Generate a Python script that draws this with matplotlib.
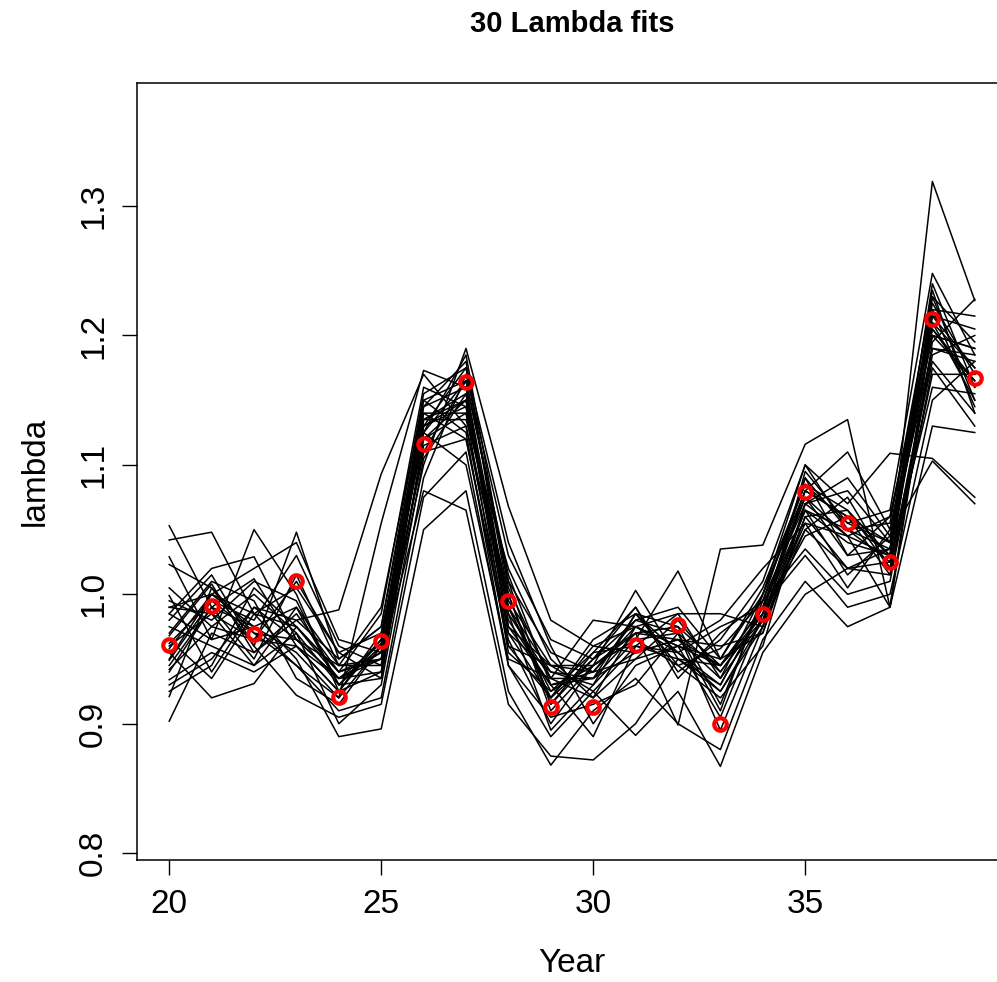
import numpy as np
import matplotlib
matplotlib.use("Agg")
import matplotlib.pyplot as plt

plt.rcParams["font.family"] = ["Liberation Sans", "DejaVu Sans"]

years = list(range(20, 40))

# "true" lambda values (red circles)
lambda_true = [0.961, 0.991, 0.969, 1.010, 0.921, 0.964, 1.116, 1.164, 0.995, 0.913,
               0.913, 0.961, 0.976, 0.900, 0.985, 1.079, 1.055, 1.025, 1.213, 1.167]

# 30 fitted lambda series (approximate)
fits = [
    [1.053, 0.990, 1.012, 0.960, 0.935, 0.962, 1.130, 1.150, 0.975, 0.930, 0.940, 0.975, 0.955, 0.975, 0.990, 1.065, 1.040, 1.030, 1.205, 1.165],
    [1.042, 1.048, 0.985, 0.975, 0.940, 0.955, 1.110, 1.165, 1.010, 0.915, 0.950, 0.980, 0.970, 0.910, 1.000, 1.080, 1.060, 1.040, 1.190, 1.180],
    [1.029, 0.965, 1.050, 1.000, 0.925, 0.940, 1.140, 1.120, 0.960, 0.945, 0.925, 0.960, 0.985, 0.985, 0.975, 1.050, 1.075, 1.020, 1.230, 1.150],
    [1.023, 1.005, 0.960, 1.048, 0.950, 0.975, 1.155, 1.175, 1.040, 0.960, 0.900, 0.945, 0.960, 0.905, 0.985, 1.090, 1.030, 1.060, 1.215, 1.205],
    [0.999, 0.940, 0.990, 0.980, 0.988, 1.093, 1.170, 1.130, 0.990, 0.925, 0.955, 0.990, 0.940, 0.965, 1.010, 1.100, 1.050, 1.025, 1.180, 1.140],
    [0.990, 1.000, 0.975, 0.955, 0.920, 1.055, 1.173, 1.160, 0.970, 0.940, 0.935, 0.970, 0.975, 0.915, 0.995, 1.070, 1.090, 1.045, 1.200, 1.190],
    [0.985, 1.020, 1.029, 0.965, 0.945, 0.950, 1.100, 1.190, 1.068, 0.980, 0.960, 0.955, 0.965, 0.960, 0.970, 1.060, 1.020, 1.035, 1.225, 1.170],
    [0.975, 0.960, 0.945, 0.990, 0.930, 0.935, 1.120, 1.140, 1.000, 0.910, 0.945, 1.003, 0.950, 0.930, 0.990, 1.075, 1.045, 0.990, 1.195, 1.228],
    [0.970, 1.010, 0.995, 0.935, 0.915, 0.960, 1.145, 1.180, 0.985, 0.895, 0.930, 0.965, 1.018, 0.950, 1.005, 1.085, 1.065, 1.030, 1.240, 1.160],
    [0.960, 0.985, 0.965, 1.010, 0.955, 0.970, 1.125, 1.100, 0.950, 0.935, 0.980, 0.975, 0.960, 0.980, 1.020, 1.055, 1.005, 1.050, 1.210, 1.175],
    [0.949, 0.995, 0.980, 1.030, 0.960, 0.945, 1.135, 1.135, 1.020, 0.950, 0.920, 0.950, 0.980, 0.940, 0.985, 1.045, 1.060, 1.015, 1.185, 1.200],
    [0.942, 0.975, 1.000, 0.970, 0.900, 0.930, 1.105, 1.155, 0.960, 0.920, 0.965, 0.985, 0.945, 0.920, 0.960, 1.070, 1.080, 1.040, 1.220, 1.145],
    [0.934, 0.955, 0.940, 0.960, 0.925, 0.965, 1.150, 1.125, 0.945, 0.905, 0.915, 0.930, 0.970, 0.895, 0.975, 1.095, 1.055, 1.065, 1.248, 1.185],
    [0.921, 1.005, 0.970, 0.945, 0.910, 0.920, 1.090, 1.170, 1.030, 0.965, 0.950, 0.990, 0.935, 0.970, 0.995, 1.035, 1.000, 1.010, 1.175, 1.130],
    [0.902, 0.970, 0.955, 0.985, 0.940, 0.985, 1.160, 1.145, 0.980, 0.930, 0.890, 0.960, 0.955, 0.925, 0.980, 1.080, 1.110, 1.050, 1.200, 1.165],
    [0.965, 0.935, 0.985, 0.950, 0.890, 0.896, 1.050, 1.080, 0.925, 0.868, 0.910, 0.935, 0.900, 0.880, 0.965, 1.010, 0.975, 0.990, 1.130, 1.125],
    [0.955, 0.920, 0.931, 0.975, 0.935, 0.950, 1.080, 1.065, 0.915, 0.875, 0.872, 0.900, 0.950, 0.945, 0.990, 1.030, 0.990, 1.000, 1.150, 1.180],
    [0.980, 1.015, 0.960, 0.922, 0.905, 0.915, 1.075, 1.110, 0.945, 0.890, 0.925, 0.891, 0.925, 0.867, 0.955, 1.000, 1.020, 1.025, 1.160, 1.155],
    [0.995, 0.980, 1.010, 0.995, 0.930, 0.965, 1.135, 1.150, 0.995, 0.945, 0.945, 0.970, 0.899, 1.035, 1.038, 1.116, 1.135, 0.990, 1.210, 1.150],
    [0.945, 0.990, 0.950, 1.015, 0.945, 0.990, 1.150, 1.165, 1.010, 0.955, 0.940, 0.980, 0.990, 0.950, 1.000, 1.100, 1.070, 1.109, 1.105, 1.075],
    [0.930, 0.950, 0.990, 0.965, 0.935, 0.940, 1.115, 1.130, 0.970, 0.920, 0.960, 0.975, 0.960, 0.945, 0.985, 1.065, 1.015, 1.045, 1.103, 1.070],
    [0.958, 1.000, 1.020, 1.040, 0.965, 0.955, 1.125, 1.185, 1.005, 0.935, 0.935, 0.955, 0.965, 0.935, 0.980, 1.055, 1.045, 1.030, 1.319, 1.227],
    [0.985, 0.965, 0.975, 0.945, 0.920, 0.960, 1.140, 1.140, 0.955, 0.925, 0.945, 0.965, 0.945, 0.958, 0.995, 1.090, 1.050, 1.055, 1.230, 1.195],
    [0.968, 1.008, 0.955, 0.980, 0.950, 0.975, 1.145, 1.160, 0.990, 0.940, 0.930, 0.985, 0.975, 0.945, 0.990, 1.075, 1.030, 1.035, 1.220, 1.215],
    [0.940, 0.990, 0.975, 0.990, 0.945, 0.945, 1.130, 1.175, 1.000, 0.915, 0.955, 0.960, 0.950, 0.925, 0.975, 1.060, 1.065, 1.020, 1.190, 1.185],
    [1.005, 0.975, 0.965, 0.960, 0.925, 0.970, 1.120, 1.150, 0.985, 0.935, 0.920, 0.975, 0.985, 0.935, 1.000, 1.085, 1.055, 1.040, 1.235, 1.140],
    [0.925, 0.945, 1.005, 0.975, 0.940, 0.950, 1.110, 1.120, 0.965, 0.900, 0.945, 0.965, 0.970, 0.940, 0.985, 1.050, 1.020, 1.015, 1.170, 1.170],
    [0.950, 1.000, 0.985, 1.005, 0.955, 0.935, 1.135, 1.155, 0.975, 0.945, 0.940, 0.950, 0.960, 0.950, 0.970, 1.070, 1.045, 1.060, 1.205, 1.160],
    [0.990, 0.985, 0.945, 0.970, 0.930, 0.960, 1.125, 1.165, 1.015, 0.930, 0.935, 0.985, 0.955, 0.930, 0.990, 1.080, 1.060, 1.030, 1.215, 1.175],
    [0.962, 0.995, 0.970, 0.965, 0.935, 0.955, 1.130, 1.145, 0.990, 0.920, 0.950, 0.970, 0.965, 0.945, 0.980, 1.065, 1.050, 1.035, 1.200, 1.190],
]

xticks = [20, 25, 30, 35]
yticks = [0.8, 0.9, 1.0, 1.1, 1.2, 1.3]

fig = plt.figure(figsize=(9.97, 9.82), dpi=100)
# axes run past the right edge of the figure, like the cropped original
ax = fig.add_axes([137 / 997, 122 / 982, 870 / 997, 777 / 982])

for f in fits:
    ax.plot(years, f, color="black", lw=1.1)
ax.plot(years, lambda_true, "o", mfc="none", mec="red", ms=9, mew=3, zorder=5)

ax.set_xlim(19.24, 39.76)
ax.set_ylim(0.7947, 1.3951)
ax.set_xticks(xticks)
ax.set_yticks(yticks)
ax.set_xticklabels([str(t) for t in xticks])
ax.set_yticklabels(["%.1f" % t for t in yticks], rotation=90, va="center")
ax.tick_params(direction="out", length=11, width=1, labelsize=24, color="black")
ax.tick_params(axis="x", pad=10)
ax.tick_params(axis="y", pad=9)
for s in ax.spines.values():
    s.set_linewidth(1.1)

ax.set_xlabel("Year", fontsize=24, labelpad=20)
ax.set_ylabel("lambda", fontsize=24, labelpad=20)
fig.text(572 / 997, 1 - 24 / 982, "30 Lambda fits", ha="center", va="center",
         fontsize=21, fontweight="bold")

fig.savefig("out.png", dpi=100)
